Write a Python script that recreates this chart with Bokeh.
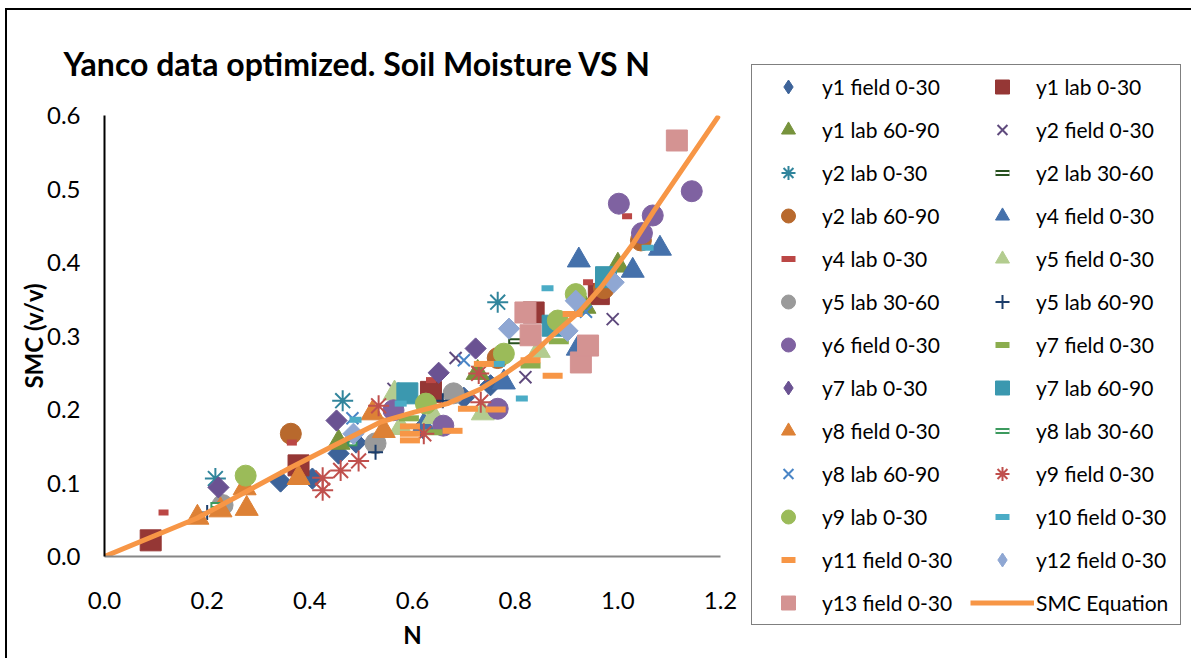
import math
from bokeh.plotting import figure
from bokeh.models import Range1d, FixedTicker, Legend, LegendItem, NumeralTickFormatter
from bokeh.embed import file_html
from bokeh.resources import INLINE

# ---------------- data ----------------
N_TICKS = [0.0, 0.2, 0.4, 0.6, 0.8, 1.0, 1.2]
SMC_TICKS = [0.0, 0.1, 0.2, 0.3, 0.4, 0.5, 0.6]

y1_field_N = [0.343, 0.405, 0.456, 0.49, 0.62, 0.70, 0.752]
y1_field_SMC = [0.102, 0.106, 0.14, 0.155, 0.175, 0.216, 0.233]

y1_lab030_N = [0.09, 0.378, 0.636, 0.836, 0.963]
y1_lab030_SMC = [0.022, 0.124, 0.224, 0.332, 0.357]

y1_lab6090_N = [0.456, 0.727, 0.935, 1.0]
y1_lab6090_SMC = [0.155, 0.25, 0.34, 0.396]

y2_field_N = [0.563, 0.684, 0.82, 0.99]
y2_field_SMC = [0.228, 0.27, 0.244, 0.323]

y2_lab030_N = [0.216, 0.464, 0.766]
y2_lab030_SMC = [0.106, 0.212, 0.346]

y2_lab3060_N = [0.80]
y2_lab3060_SMC = [0.293]

y2_lab6090_N = [0.363, 0.766, 0.973, 1.045]
y2_lab6090_SMC = [0.167, 0.27, 0.365, 0.43]

y4_field_N = [0.622, 0.778, 0.922, 0.924, 1.029, 1.082]
y4_field_SMC = [0.178, 0.237, 0.283, 0.403, 0.389, 0.419]

y4_lab_N = [0.115, 0.365, 0.636, 0.942, 1.018]
y4_lab_SMC = [0.06, 0.155, 0.24, 0.373, 0.463]

y5_field_N = [0.565, 0.577, 0.641, 0.737, 0.846]
y5_field_SMC = [0.222, 0.175, 0.19, 0.195, 0.28]

y5_lab3060_N = [0.23, 0.528, 0.68]
y5_lab3060_SMC = [0.07, 0.154, 0.222]

y5_lab6090_N = [0.2, 0.528, 0.659]
y5_lab6090_SMC = [0.06, 0.142, 0.212]

y6_field_N = [0.563, 0.66, 0.766, 1.002, 1.047, 1.068, 1.144]
y6_field_SMC = [0.199, 0.178, 0.201, 0.48, 0.44, 0.464, 0.497]

y7_field_N = [0.593, 0.639, 0.83, 0.885]
y7_field_SMC = [0.188, 0.169, 0.26, 0.293]

y7_lab030_N = [0.222, 0.452, 0.651, 0.723]
y7_lab030_SMC = [0.094, 0.185, 0.25, 0.283]

y7_lab6090_N = [0.59, 0.873, 0.977]
y7_lab6090_SMC = [0.222, 0.314, 0.38]

y8_field_N = [0.181, 0.226, 0.277, 0.273, 0.378, 0.544, 0.522]
y8_field_SMC = [0.053, 0.063, 0.065, 0.093, 0.107, 0.171, 0.195]

y8_lab3060_N = [0.216, 0.483]
y8_lab3060_SMC = [0.07, 0.154]

y8_lab6090_N = [0.483, 0.70, 0.938]
y8_lab6090_SMC = [0.188, 0.267, 0.333]

y9_field_N = [0.425, 0.425, 0.46, 0.495, 0.534, 0.622, 0.729, 0.733]
y9_field_SMC = [0.09, 0.107, 0.117, 0.13, 0.205, 0.167, 0.249, 0.21]

y9_lab_N = [0.275, 0.626, 0.778, 0.883, 0.918]
y9_lab_SMC = [0.11, 0.208, 0.276, 0.321, 0.357]

y10_field_N = [0.489, 0.577, 0.768, 0.813, 0.863, 1.058]
y10_field_SMC = [0.186, 0.208, 0.262, 0.215, 0.365, 0.42]

y11_field_N = [0.595, 0.595, 0.595, 0.678, 0.708, 0.739, 0.762, 0.83, 0.873, 0.912]
y11_field_SMC = [0.158, 0.167, 0.177, 0.171, 0.201, 0.262, 0.2, 0.267, 0.246, 0.33]

y12_field_N = [0.485, 0.788, 0.902, 0.918, 0.992]
y12_field_SMC = [0.167, 0.31, 0.307, 0.348, 0.373]

y13_field_N = [0.82, 0.83, 0.928, 0.942, 1.115]
y13_field_SMC = [0.332, 0.301, 0.264, 0.287, 0.566]

eq_N = [0.0, 0.18, 0.363, 0.45, 0.538, 0.602, 0.668, 0.733, 0.785, 0.83, 0.876,
        0.928, 0.967, 1.031, 1.07, 1.197]
eq_SMC = [0.0, 0.052, 0.121, 0.152, 0.183, 0.196, 0.208, 0.228, 0.251, 0.273, 0.303,
          0.335, 0.366, 0.427, 0.47, 0.6]

series = [
    ("y1 field 0-30", y1_field_N, y1_field_SMC),
    ("y1 lab 0-30", y1_lab030_N, y1_lab030_SMC),
    ("y1 lab 60-90", y1_lab6090_N, y1_lab6090_SMC),
    ("y2 field 0-30", y2_field_N, y2_field_SMC),
    ("y2 lab 0-30", y2_lab030_N, y2_lab030_SMC),
    ("y2 lab 30-60", y2_lab3060_N, y2_lab3060_SMC),
    ("y2 lab 60-90", y2_lab6090_N, y2_lab6090_SMC),
    ("y4 field 0-30", y4_field_N, y4_field_SMC),
    ("y4 lab 0-30", y4_lab_N, y4_lab_SMC),
    ("y5 field 0-30", y5_field_N, y5_field_SMC),
    ("y5 lab 30-60", y5_lab3060_N, y5_lab3060_SMC),
    ("y5 lab 60-90", y5_lab6090_N, y5_lab6090_SMC),
    ("y6 field 0-30", y6_field_N, y6_field_SMC),
    ("y7 field 0-30", y7_field_N, y7_field_SMC),
    ("y7 lab 0-30", y7_lab030_N, y7_lab030_SMC),
    ("y7 lab 60-90", y7_lab6090_N, y7_lab6090_SMC),
    ("y8 field 0-30", y8_field_N, y8_field_SMC),
    ("y8 lab 30-60", y8_lab3060_N, y8_lab3060_SMC),
    ("y8 lab 60-90", y8_lab6090_N, y8_lab6090_SMC),
    ("y9 field 0-30", y9_field_N, y9_field_SMC),
    ("y9 lab 0-30", y9_lab_N, y9_lab_SMC),
    ("y10 field 0-30", y10_field_N, y10_field_SMC),
    ("y11 field 0-30", y11_field_N, y11_field_SMC),
    ("y12 field 0-30", y12_field_N, y12_field_SMC),
    ("y13 field 0-30", y13_field_N, y13_field_SMC),
]

# ---------------- styles ----------------
STYLE = {
    "y1 field 0-30": ("diamond", "#3D6399", 15),
    "y1 lab 0-30": ("square", "#953735", 21),
    "y1 lab 60-90": ("triangle", "#77933C", 23),
    "y2 field 0-30": ("x", "#5F4A7D", 17),
    "y2 lab 0-30": ("asterisk", "#31859C", 21),
    "y2 lab 30-60": ("hollow_dash", "#28521F", 14),
    "y2 lab 60-90": ("circle", "#B8692D", 21),
    "y4 field 0-30": ("triangle", "#4571AB", 23),
    "y4 lab 0-30": ("dash", "#BB4745", 10),
    "y5 field 0-30": ("triangle", "#B3CC8F", 23),
    "y5 lab 30-60": ("circle", "#9A9A9A", 21),
    "y5 lab 60-90": ("cross", "#1B3D6B", 15),
    "y6 field 0-30": ("circle", "#7F62A1", 21),
    "y7 field 0-30": ("dash", "#8BAD4E", 20),
    "y7 lab 0-30": ("diamond", "#6A5292", 15),
    "y7 lab 60-90": ("square", "#3B98AF", 21),
    "y8 field 0-30": ("triangle", "#DD8136", 23),
    "y8 lab 30-60": ("hollow_dash", "#3C9A5E", 10),
    "y8 lab 60-90": ("x", "#4A85C6", 17),
    "y9 field 0-30": ("asterisk", "#C0504D", 21),
    "y9 lab 0-30": ("circle", "#9BBB59", 21),
    "y10 field 0-30": ("dash", "#4BACC6", 12),
    "y11 field 0-30": ("dash", "#F79646", 20),
    "y12 field 0-30": ("diamond", "#8FA7D3", 15),
    "y13 field 0-30": ("square", "#D49392", 21),
}
EQ_COLOR = "#F79646"
FONT = "Lato"

p = figure(
    frame_width=616, frame_height=441,
    x_range=Range1d(0, 1.2), y_range=Range1d(0, 0.6),
    output_backend="svg", toolbar_location=None,
    min_border_left=104, min_border_right=0, min_border_top=115, min_border_bottom=102,
    title="Yanco data optimized. Soil Moisture VS N",
)
p.grid.visible = False
p.outline_line_color = None
p.background_fill_color = "white"
p.border_fill_color = None
p.styles = {
    "box-shadow": "inset 0 8px 0 0 #ffffff, inset 5px 0 0 0 #ffffff, "
                  "inset 0 10px 0 0 #000000, inset 7px 0 0 0 #000000",
    "background": "white",
}

p.title.text_font = FONT
p.title.text_font_style = "bold"
p.title.text_font_size = "32px"
p.title.text_color = "black"
p.title.align = "left"
p.title.offset = -41
p.title.standoff = 65

for ax in (p.xaxis[0], p.yaxis[0]):
    ax.major_tick_line_color = None
    ax.minor_tick_line_color = None
    ax.major_tick_out = 0
    ax.major_tick_in = 0
    ax.major_label_text_font = FONT
    ax.major_label_text_font_size = "24px"
    ax.major_label_text_color = "black"
    ax.axis_label_text_font = FONT
    ax.axis_label_text_font_style = "bold"
    ax.axis_label_text_font_size = "24px"
    ax.axis_label_text_color = "black"
    ax.formatter = NumeralTickFormatter(format="0.0")
    ax.axis_line_width = 2

p.xaxis.ticker = FixedTicker(ticks=N_TICKS)
p.yaxis.ticker = FixedTicker(ticks=SMC_TICKS)
p.xaxis.axis_line_color = "#868686"
p.yaxis.axis_line_color = "black"
p.xaxis.axis_label = "N"
p.yaxis.axis_label = "SMC (v/v)"
p.xaxis.major_label_standoff = 35
p.xaxis.axis_label_standoff = 8
p.yaxis.major_label_standoff = 24
p.yaxis.axis_label_standoff = -4

items = []
for label, xs, ys in series:
    kind, c, s = STYLE[label]
    rs = []
    if kind == "diamond":
        # an upright diamond hidden under the rotated square; it gives the legend its glyph
        hidden = p.scatter(xs, ys, marker="diamond", size=s + 4, fill_color=c, line_color=c)
        p.scatter(xs, ys, marker="square", angle=math.pi / 4, size=s,
                  fill_color=c, line_color=c)
        rs.append(hidden)
    elif kind in ("square", "circle", "triangle"):
        rs.append(p.scatter(xs, ys, marker=kind, size=s, fill_color=c, line_color=c))
    elif kind in ("x", "asterisk", "cross"):
        rs.append(p.scatter(xs, ys, marker=kind, size=s, line_color=c, line_width=2))
    elif kind == "dash":
        rs.append(p.scatter(xs, ys, marker="dash", size=s, line_color=c, line_width=6))
    elif kind == "hollow_dash":
        rs.append(p.scatter(xs, ys, marker="dash", size=s, line_color=c, line_width=6))
        rs.append(p.scatter(xs, ys, marker="dash", size=s - 4, line_color="white", line_width=2))
    items.append(LegendItem(label=label, renderers=rs))

eq = p.line(eq_N, eq_SMC, line_color=EQ_COLOR, line_width=5)
items.append(LegendItem(label="SMC Equation", renderers=[eq]))

# reference legend is row-major with 2 columns -> reorder for column-major layout
ordered = items[0::2] + items[1::2]
legend = Legend(items=ordered, location=(31, -69), ncols=2)
legend.label_text_font = FONT
legend.label_text_font_size = "21px"
legend.label_text_color = "black"
legend.glyph_height = 35
legend.glyph_width = 64
legend.label_standoff = 2
legend.label_width = 140
legend.spacing = 8
legend.padding = 4
legend.margin = 0
legend.border_line_color = "black"
legend.border_line_width = 1.5
legend.background_fill_color = "white"
legend.background_fill_alpha = 1.0
p.add_layout(legend, "right")

open("out.html", "w").write(file_html(p, INLINE))
